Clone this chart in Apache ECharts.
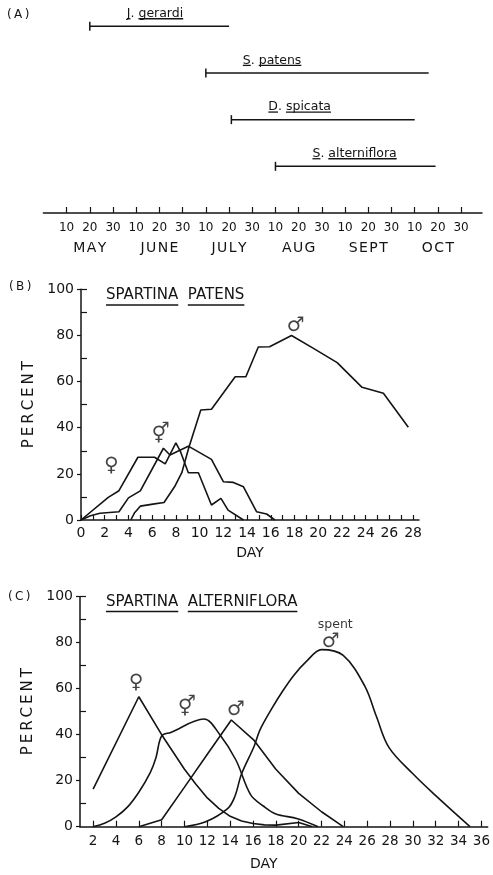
<!DOCTYPE html>
<html>
<head>
<meta charset="utf-8">
<script src="https://cdn.jsdelivr.net/npm/echarts@6/dist/echarts.min.js"></script>
<style>
  html, body { margin: 0; padding: 0; background: #fff; }
  #chart { width: 493px; height: 875px; }
</style>
</head>
<body>
<div id="chart"></div>
<script>
// (A) flowering periods, days counted from 1 May (10 = May 10, 40 = June 10 ...)
const species = [['J', 'gerardi'], ['S', 'patens'], ['D', 'spicata'], ['S', 'alterniflora']]
const flowerStart = [20, 70, 81, 100]
const flowerEnd = [80, 166, 160, 169]
const dayTicks = [10, 20, 30, 40, 50, 60, 70, 80, 90, 100, 110, 120, 130, 140, 150, 160, 170, 180]
const dayTickLabels = ['10', '20', '30', '10', '20', '30', '10', '20', '30', '10', '20', '30', '10', '20', '30', '10', '20', '30']
const monthMid = [20, 50, 80, 110, 140, 170]
const months = ['MAY', 'JUNE', 'JULY', 'AUG', 'SEPT', 'OCT']

// (B) Spartina patens, percent [day, %]
const patensFemale = [[0, 0], [2.3, 9.8], [3.2, 12.7], [4.8, 27.2], [6.2, 27.2], [7.1, 24.3], [8.0, 33.4], [8.4, 29.5], [9.05, 20.5], [9.9, 20.5], [11.0, 6.5], [11.8, 9.4], [12.4, 4.3], [13.7, 0]]
const patensBoth = [[0, 0], [0.8, 1.8], [1.6, 2.9], [3.2, 3.6], [4.0, 9.6], [5.0, 12.6], [6.95, 31.1], [7.5, 28.2], [9.05, 32], [11.0, 26.3], [12.0, 16.6], [12.85, 16.3], [13.7, 14.4], [14.8, 3.6], [15.65, 2.6], [16.35, 0]]
const patensMale = [[4.2, 0], [4.5, 3], [5.0, 6], [6.2, 7], [7.0, 7.6], [7.9, 14.5], [8.5, 20.5], [9.1, 31.5], [10.1, 47.7], [11.0, 48], [13.0, 62.1], [13.9, 62.1], [14.95, 75], [15.9, 75.1], [17.75, 80], [19.6, 74.4], [21.6, 68.2], [23.7, 57.5], [25.5, 54.9], [27.6, 40.2]]
const daysB = [0, 1, 2, 3, 4, 5, 6, 7, 8, 9, 10, 11, 12, 13, 14, 15, 16, 17, 18, 19, 20, 21, 22, 23, 24, 25, 26, 27, 28]
const dayLabelsB = [0, 2, 4, 6, 8, 10, 12, 14, 16, 18, 20, 22, 24, 26, 28]
const marksB = [['♀', 2.55, 23.5], ['⚥', 6.7, 37], ['♂', 18.1, 84]]

// (C) Spartina alterniflora, percent [day, %]
const alternFemale = [[2, 16.3], [6, 56.5], [8, 40], [10, 25], [11, 18.5], [12, 12.5], [13, 8], [14, 4.5], [15, 2.5], [16, 1.4], [17, 0.8], [18, 0.7], [20, 1.8], [21.2, 0]]
const alternBoth = [[2, 0], [3, 1.5], [4, 4.3], [5, 8.5], [6, 15], [7, 23.5], [7.5, 30], [8, 39.5], [8.8, 41], [11.7, 46.8], [13.1, 40], [14.5, 29], [15.8, 13.8], [16.9, 9], [18, 5.5], [19.9, 3.5], [21.7, 0]]
const alternMale = [[6, 0], [8, 3], [10, 17.2], [12, 31.5], [14.1, 46.4], [16.1, 37.5], [18, 25], [20, 14.5], [22, 6.5], [23.9, 0]]
const alternSpent = [[10, 0], [11.8, 2], [13.8, 8], [14.4, 13], [15, 23], [16.1, 35], [16.6, 42], [17.6, 51], [18.6, 59], [19.6, 66], [20.7, 72], [22, 77], [23.9, 74.5], [25.8, 61], [26.8, 48], [27.9, 34.5], [30, 23], [32, 13.5], [35, 0]]
const daysC = [2, 4, 6, 8, 10, 12, 14, 16, 18, 20, 22, 24, 26, 28, 30, 32, 34, 36]
const marksC = [['♀', 5.75, 62.6], ['⚥', 10.2, 51.5], ['♂', 14.5, 51], ['♂', 22.8, 80.4], ['spent', 23.2, 88]]

const percentTicks = [10, 30, 50, 70, 90, 100]

const ink = '#141414'
const FAMILY = "'DejaVu Sans', sans-serif"
const measure = document.createElement('canvas').getContext('2d')

// text pieces drawn side by side, some of them underlined
function underlined(parts, x, y, size, gap) {
  const font = size + 'px ' + FAMILY
  measure.font = font
  const out = []
  let cx = x
  parts.forEach(p => {
    const w = measure.measureText(p[0]).width
    out.push({ type: 'text', x: cx, y: y, style: { text: p[0], font: font, fill: ink, align: 'left', verticalAlign: 'middle' } })
    if (p[1]) {
      out.push({ type: 'line', shape: { x1: cx, y1: y + gap, x2: cx + w, y2: y + gap }, style: { stroke: ink, lineWidth: 1.3 } })
    }
    cx += w
  })
  return out
}

function spaced(s, sp) {
  return s.split('').join(sp || '\u2009')
}

const chart = echarts.init(document.getElementById('chart'), null, { renderer: 'canvas', width: 493, height: 875 })

const lineAxis = { lineStyle: { color: ink, width: 1.5 } }

function percentAxes(grid) {
  return [{
    gridIndex: grid,
    type: 'value',
    position: 'left',
    min: 0,
    max: 100,
    interval: 20,
    axisLine: { show: true, lineStyle: { color: ink, width: 1.5 } },
    axisTick: { show: true, length: 4, lineStyle: { color: ink, width: 1.2 } },
    axisLabel: { color: ink, fontSize: 14, fontFamily: FAMILY, margin: 7 },
    splitLine: { show: false },
    name: spaced('PERCENT'),
    nameLocation: 'middle',
    nameRotate: 90,
    nameGap: 42,
    nameTextStyle: { color: ink, fontSize: 15, fontFamily: FAMILY }
  }, {
    gridIndex: grid,
    type: 'value',
    position: 'left',
    min: 0,
    max: 100,
    axisLine: { show: false },
    axisLabel: { show: false },
    axisTick: { show: true, inside: true, length: 6, customValues: percentTicks, lineStyle: { color: ink, width: 1.2 } },
    splitLine: { show: false }
  }]
}

function curve(data, x, y, smooth) {
  return {
    type: 'line',
    xAxisIndex: x,
    yAxisIndex: y,
    data: data,
    showSymbol: false,
    smooth: smooth,
    lineStyle: { color: ink, width: 1.6 }
  }
}

function marks(list, x, y) {
  return {
    type: 'scatter',
    xAxisIndex: x,
    yAxisIndex: y,
    symbolSize: 0,
    data: list.map(m => ({ name: m[0], value: [m[1], m[2]] })),
    label: {
      show: true,
      position: 'inside',
      formatter: '{b}',
      color: ink,
      fontFamily: FAMILY,
      fontSize: 20
    }
  }
}

const marksCSeries = marks(marksC, 3, 3)
marksCSeries.data[4].label = { fontSize: 12.5, color: '#000' }

const option = {
  animation: false,
  backgroundColor: '#fff',
  textStyle: { fontFamily: FAMILY },
  grid: [
    { left: 43.4, width: 438.6, top: 3, height: 210 },
    { left: 81, width: 338, top: 289.3, height: 230.7 },
    { left: 80, width: 413, top: 596.7, height: 230 }
  ],
  xAxis: [{
    gridIndex: 0,
    type: 'value',
    position: 'bottom',
    min: 0,
    max: 189,
    axisLine: lineAxis,
    axisTick: { inside: true, length: 6, customValues: dayTicks, lineStyle: { color: ink, width: 1.2 } },
    axisLabel: {
      customValues: dayTicks,
      showMinLabel: true,
      showMaxLabel: true,
      margin: 9,
      color: ink,
      fontSize: 12,
      fontFamily: FAMILY,
      formatter: v => dayTickLabels[Math.round(v / 10) - 1]
    },
    splitLine: { show: false }
  }, {
    gridIndex: 0,
    type: 'value',
    position: 'bottom',
    min: 0,
    max: 189,
    axisLine: { show: false },
    axisTick: { show: false },
    axisLabel: {
      customValues: monthMid,
      showMinLabel: true,
      showMaxLabel: true,
      margin: 28,
      color: ink,
      fontSize: 14,
      fontFamily: FAMILY,
      formatter: v => spaced(months[monthMid.indexOf(v)], '\u200a')
    },
    splitLine: { show: false }
  }, {
    gridIndex: 1,
    type: 'value',
    min: 0,
    max: 28.5,
    axisLine: lineAxis,
    axisTick: { inside: true, length: 5, customValues: daysB, lineStyle: { color: ink, width: 1.2 } },
    axisLabel: { customValues: dayLabelsB, margin: 6, color: ink, fontSize: 14, fontFamily: FAMILY },
    splitLine: { show: false },
    name: 'DAY',
    nameLocation: 'middle',
    nameGap: 26,
    nameTextStyle: { color: ink, fontSize: 14, fontFamily: FAMILY }
  }, {
    gridIndex: 2,
    type: 'value',
    min: 0.85,
    max: 36.55,
    axisLine: lineAxis,
    axisTick: { inside: true, length: 6, customValues: daysC, lineStyle: { color: ink, width: 1.2 } },
    axisLabel: { customValues: daysC, margin: 8, color: ink, fontSize: 13.5, fontFamily: FAMILY },
    splitLine: { show: false },
    name: 'DAY',
    nameLocation: 'middle',
    nameGap: 31,
    nameTextStyle: { color: ink, fontSize: 14, fontFamily: FAMILY, padding: [0, 40, 0, 0] }
  }],
  yAxis: [
    { gridIndex: 0, type: 'value', min: 0, max: 4.5, show: false }
  ].concat(percentAxes(1), percentAxes(2)),
  graphic: {
    elements: [
      { type: 'text', x: 7, y: 15, style: { text: '(\u2009A\u2009)', font: '12px ' + FAMILY, fill: ink, verticalAlign: 'middle' } },
      { type: 'text', x: 9, y: 287, style: { text: '(\u2009B\u2009)', font: '12px ' + FAMILY, fill: ink, verticalAlign: 'middle' } },
      { type: 'text', x: 8, y: 597, style: { text: '(\u2009C\u2009)', font: '12px ' + FAMILY, fill: ink, verticalAlign: 'middle' } }
    ].concat(
      underlined([['SPARTINA', 1], ['  ', 0], ['PATENS', 1]], 106, 295.5, 15, 9.5),
      underlined([['SPARTINA', 1], ['  ', 0], ['ALTERNIFLORA', 1]], 106, 602.5, 15, 9)
    )
  },
  series: [{
    type: 'custom',
    xAxisIndex: 0,
    yAxisIndex: 0,
    clip: false,
    data: species.map((s, i) => [flowerStart[i], flowerEnd[i], species.length - i]),
    renderItem: (params, api) => {
      const sp = species[params.dataIndex]
      const row = api.value(2)
      const s = api.coord([api.value(0), row])
      const e = api.coord([api.value(1), row])
      const ls = { stroke: ink, lineWidth: 1.5 }
      return {
        type: 'group',
        children: [
          { type: 'line', shape: { x1: s[0], y1: s[1], x2: e[0], y2: e[1] }, style: ls },
          { type: 'line', shape: { x1: s[0], y1: s[1] - 4.5, x2: s[0], y2: s[1] + 4.5 }, style: ls }
        ].concat(underlined([[sp[0], 1], ['. ', 0], [sp[1], 1]], s[0] + 37, s[1] - 12.5, 12.5, 4.9))
      }
    }
  },
  curve(patensFemale, 2, 1, false),
  curve(patensBoth, 2, 1, false),
  curve(patensMale, 2, 1, false),
  marks(marksB, 2, 1),
  curve(alternFemale, 3, 3, false),
  curve(alternBoth, 3, 3, 0.35),
  curve(alternMale, 3, 3, false),
  curve(alternSpent, 3, 3, 0.35),
  marksCSeries
  ]
}

chart.setOption(option)
</script>
</body>
</html>
